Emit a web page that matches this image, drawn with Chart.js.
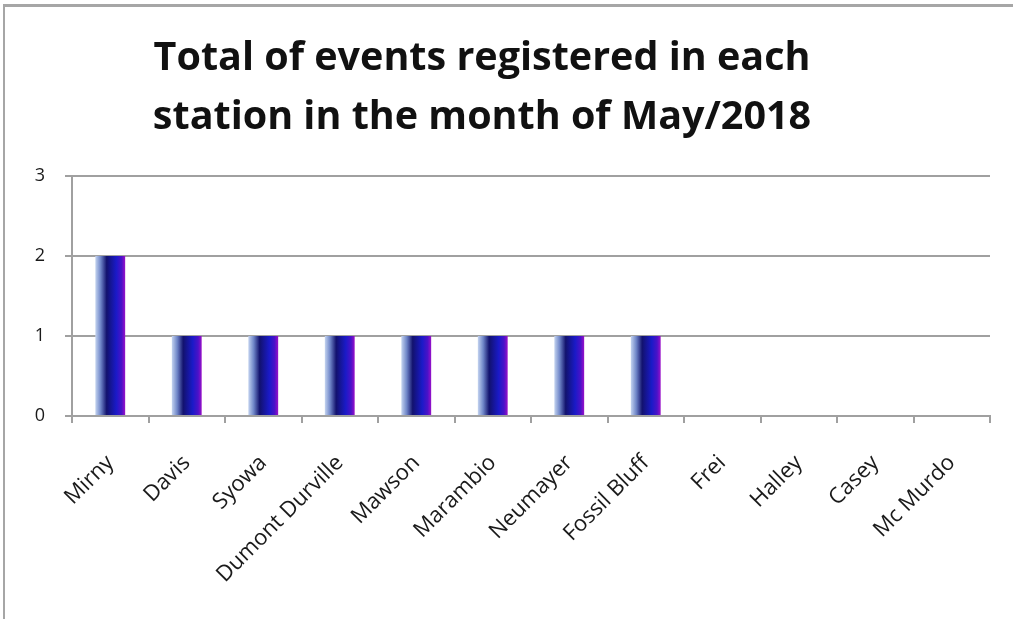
<!DOCTYPE html>
<html>
<head>
<meta charset="utf-8">
<script src="https://cdn.jsdelivr.net/npm/chart.js@4.4.1/dist/chart.umd.min.js"></script>
<style>
  html, body { margin: 0; padding: 0; background: #fff; }
  #wrap { position: relative; width: 1013px; height: 619px; overflow: hidden; }
  #frame { position: absolute; left: 3px; top: 4px; width: 1020px; height: 630px;
           border-top: 3px solid #a6a6a6; border-left: 2px solid #a6a6a6; }
  #chart_box { position: absolute; left: 0; top: 0; width: 1013px; height: 619px; }
</style>
</head>
<body>
<div id="wrap">
  <div id="frame"></div>
  <div id="chart_box"><canvas id="bar_chart" width="1013" height="619"></canvas></div>
</div>
<script>
var stations = ['Mirny', 'Davis', 'Syowa', 'Dumont Durville', 'Mawson', 'Marambio',
                'Neumayer', 'Fossil Bluff', 'Frei', 'Halley', 'Casey', 'Mc Murdo'];
var events = [2, 1, 1, 1, 1, 1, 1, 1, 0, 0, 0, 0];
var titleLines = ['Total of events registered in each', 'station in the month of May/2018'];

var barPct = 0.39;
var gray = '#a0a0a0';

// left-to-right shading of each bar, like the original
function barShade(c) {
    var chart = c.chart;
    if (!chart.chartArea || c.dataIndex === undefined) return '#1a1ac8';
    var xs = chart.scales.x;
    var cx = xs.getPixelForValue(c.dataIndex);
    var w = xs.width / stations.length * barPct;
    var left = cx - w / 2;
    var g = chart.ctx.createLinearGradient(left, 0, left + w, 0);
    g.addColorStop(0, '#c4d4f0');
    g.addColorStop(0.18, '#6f86c8');
    g.addColorStop(0.38, '#12126e');
    g.addColorStop(0.7, '#1a1ac8');
    g.addColorStop(0.88, '#4a12c8');
    g.addColorStop(1, '#9a10c8');
    return g;
}

// the original title sits a bit left of the canvas centre
var titleNudge = {
    id: 'titleNudge',
    afterLayout: function (chart) {
        if (chart.titleBlock) {
            chart.titleBlock.left -= 13;
            chart.titleBlock.right -= 13;
        }
    }
};

new Chart(document.getElementById('bar_chart').getContext('2d'), {
    type: 'bar',
    data: {
        labels: stations,
        datasets: [{
            data: events,
            categoryPercentage: 1,
            barPercentage: barPct,
            borderWidth: 0,
            backgroundColor: barShade
        }]
    },
    options: {
        responsive: false,
        animation: false,
        layout: { padding: { left: 0, right: 23, top: 30, bottom: 34 } },
        plugins: {
            legend: { display: false },
            tooltip: { enabled: false },
            title: {
                display: true,
                text: titleLines,
                color: '#111',
                font: { family: 'Open Sans', size: 39.5, weight: 'bold', lineHeight: 1.48 },
                padding: { top: 0, bottom: 29 }
            }
        },
        scales: {
            x: {
                afterFit: function (s) { s.height = 169; },
                grid: { drawOnChartArea: false, drawTicks: true, tickLength: 7, color: gray, lineWidth: 2 },
                border: { color: gray, width: 2 },
                ticks: { color: '#1a1a1a', font: { family: 'Open Sans', size: 22 },
                         minRotation: 45, maxRotation: 45, padding: 27 }
            },
            y: {
                min: 0, max: 3,
                afterFit: function (s) { s.width = 72; },
                grid: { color: gray, lineWidth: 2, tickLength: 7 },
                border: { color: gray, width: 2 },
                ticks: { stepSize: 1, color: '#1a1a1a', font: { family: 'Open Sans', size: 18 }, padding: 20 }
            }
        }
    },
    plugins: [titleNudge]
});
</script>
</body>
</html>
